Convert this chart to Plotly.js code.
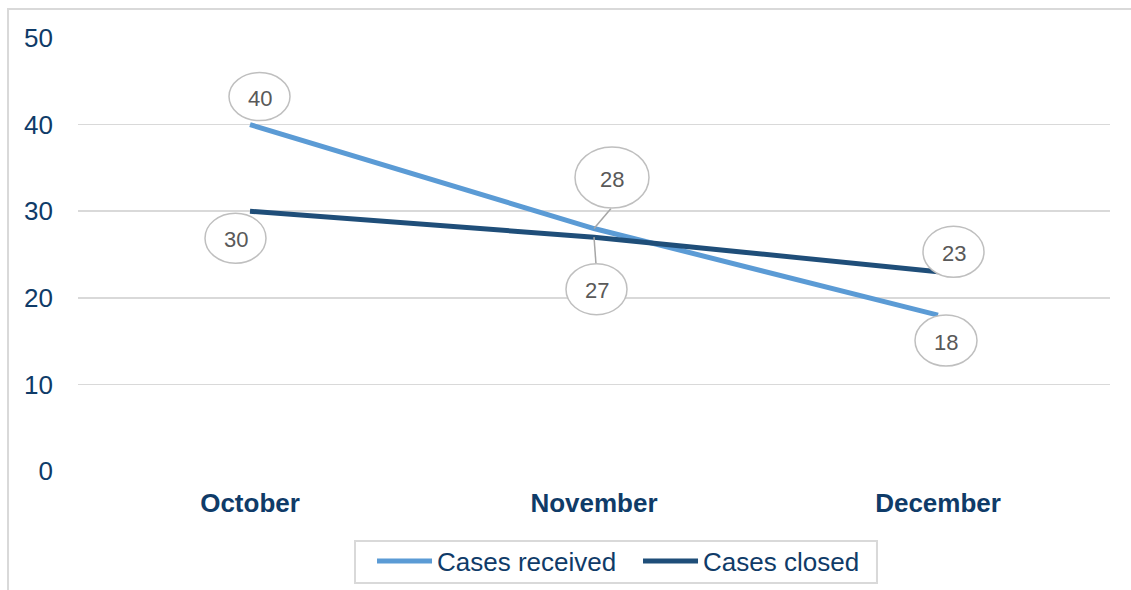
<!DOCTYPE html>
<html>
<head>
<meta charset="utf-8">
<script src="https://cdn.plot.ly/plotly-3.0.1.min.js"></script>
<style>html,body{margin:0;padding:0;background:#fff;}#chart{width:1131px;height:590px;}</style>
</head>
<body>
<div id="chart"></div>
<script>
// ---- data ----
const months = ["October", "November", "December"];
const casesReceived = [40, 28, 18];
const casesClosed = [30, 27, 23];
const seriesNames = ["Cases received", "Cases closed"];
const yTicks = [0, 10, 20, 30, 40, 50];

// ---- styling / label placement (pixel offsets from the data point) ----
const colors = ["#5B9BD5", "#1F4E79"];
const textBlue = "#0F3B68";
const FONT = "Liberation Sans, Arial, sans-serif";
const labelStyle = {
  received: [ {dx: 9.5, dy: 28, w: 61, h: 48}, {dx: 18, dy: 51, w: 74, h: 61, lead: [17, 20]}, {dx: 8, dy: -25.5, w: 62, h: 51} ],
  closed:   [ {dx: -14.5, dy: -27, w: 61, h: 50}, {dx: 2.5, dy: -52, w: 61, h: 51, lead: [2, -27]}, {dx: 15.5, dy: 20, w: 61, h: 51} ]
};

const traces = [
  {x: months, y: casesReceived, name: seriesNames[0], type: "scatter", mode: "lines",
   line: {color: colors[0], width: 5}},
  {x: months, y: casesClosed, name: seriesNames[1], type: "scatter", mode: "lines",
   line: {color: colors[1], width: 5}}
];

const shapes = [];
const annotations = [];
function addLabels(values, styles) {
  values.forEach((v, i) => {
    const s = styles[i];
    if (s.lead) {
      shapes.push({type: "line", xref: "x", yref: "y", xsizemode: "pixel", ysizemode: "pixel",
        xanchor: months[i], yanchor: v, x0: 0, y0: 0, x1: s.lead[0], y1: s.lead[1],
        line: {color: "#A6A6A6", width: 1.5}, layer: "above"});
    }
    shapes.push({type: "circle", xref: "x", yref: "y", xsizemode: "pixel", ysizemode: "pixel",
      xanchor: months[i], yanchor: v,
      x0: s.dx - s.w / 2, x1: s.dx + s.w / 2, y0: s.dy - s.h / 2, y1: s.dy + s.h / 2,
      fillcolor: "#FFFFFF", line: {color: "#BFBFBF", width: 1.5}, layer: "above"});
    annotations.push({x: months[i], y: v, xref: "x", yref: "y", text: String(v), showarrow: false,
      xshift: s.dx, yshift: s.dy - 1.5, font: {family: FONT, size: 22, color: "#595959"}});
  });
}
addLabels(casesReceived, labelStyle.received);
addLabels(casesClosed, labelStyle.closed);

// outer frame
shapes.push({type: "rect", xref: "paper", yref: "paper", x0: -0.0678, x1: 1.2, y0: -0.4, y1: 1.067,
  line: {color: "#D9D9D9", width: 2}, fillcolor: "rgba(0,0,0,0)", layer: "below"});
// legend box
shapes.push({type: "rect", xref: "paper", yref: "paper", x0: 0.2684, x1: 0.7742, y0: -0.2587, y1: -0.1617,
  line: {color: "#D9D9D9", width: 2}, fillcolor: "#FFFFFF", layer: "below"});

const layout = {
  width: 1131, height: 590,
  margin: {l: 78, r: 21, t: 38, b: 119, autoexpand: false},
  paper_bgcolor: "#FFFFFF", plot_bgcolor: "#FFFFFF",
  font: {family: FONT, color: textBlue},
  showlegend: true,
  legend: {orientation: "h", x: 0.2849, xanchor: "left", y: -0.2083, yanchor: "middle",
    borderwidth: 0, bgcolor: "rgba(0,0,0,0)",
    font: {size: 26, color: textBlue}, itemwidth: 55, traceorder: "normal",
    entrywidth: 196, entrywidthmode: "pixels"},
  xaxis: {type: "category", range: [-0.5, 2.5], showgrid: false, zeroline: false, showline: false,
    ticks: "", ticklabelstandoff: 14, automargin: false,
    tickfont: {size: 26, color: textBlue, weight: "bold"}},
  yaxis: {range: [0, 50], tickvals: yTicks, showgrid: true, gridcolor: "#D9D9D9", gridwidth: 1.5,
    zeroline: false, showline: false, ticks: "", ticklabelstandoff: 24, automargin: false,
    tickfont: {size: 26, color: textBlue}},
  shapes: shapes,
  annotations: annotations
};

Plotly.newPlot("chart", traces, layout, {displayModeBar: false, staticPlot: true});
</script>
</body>
</html>
